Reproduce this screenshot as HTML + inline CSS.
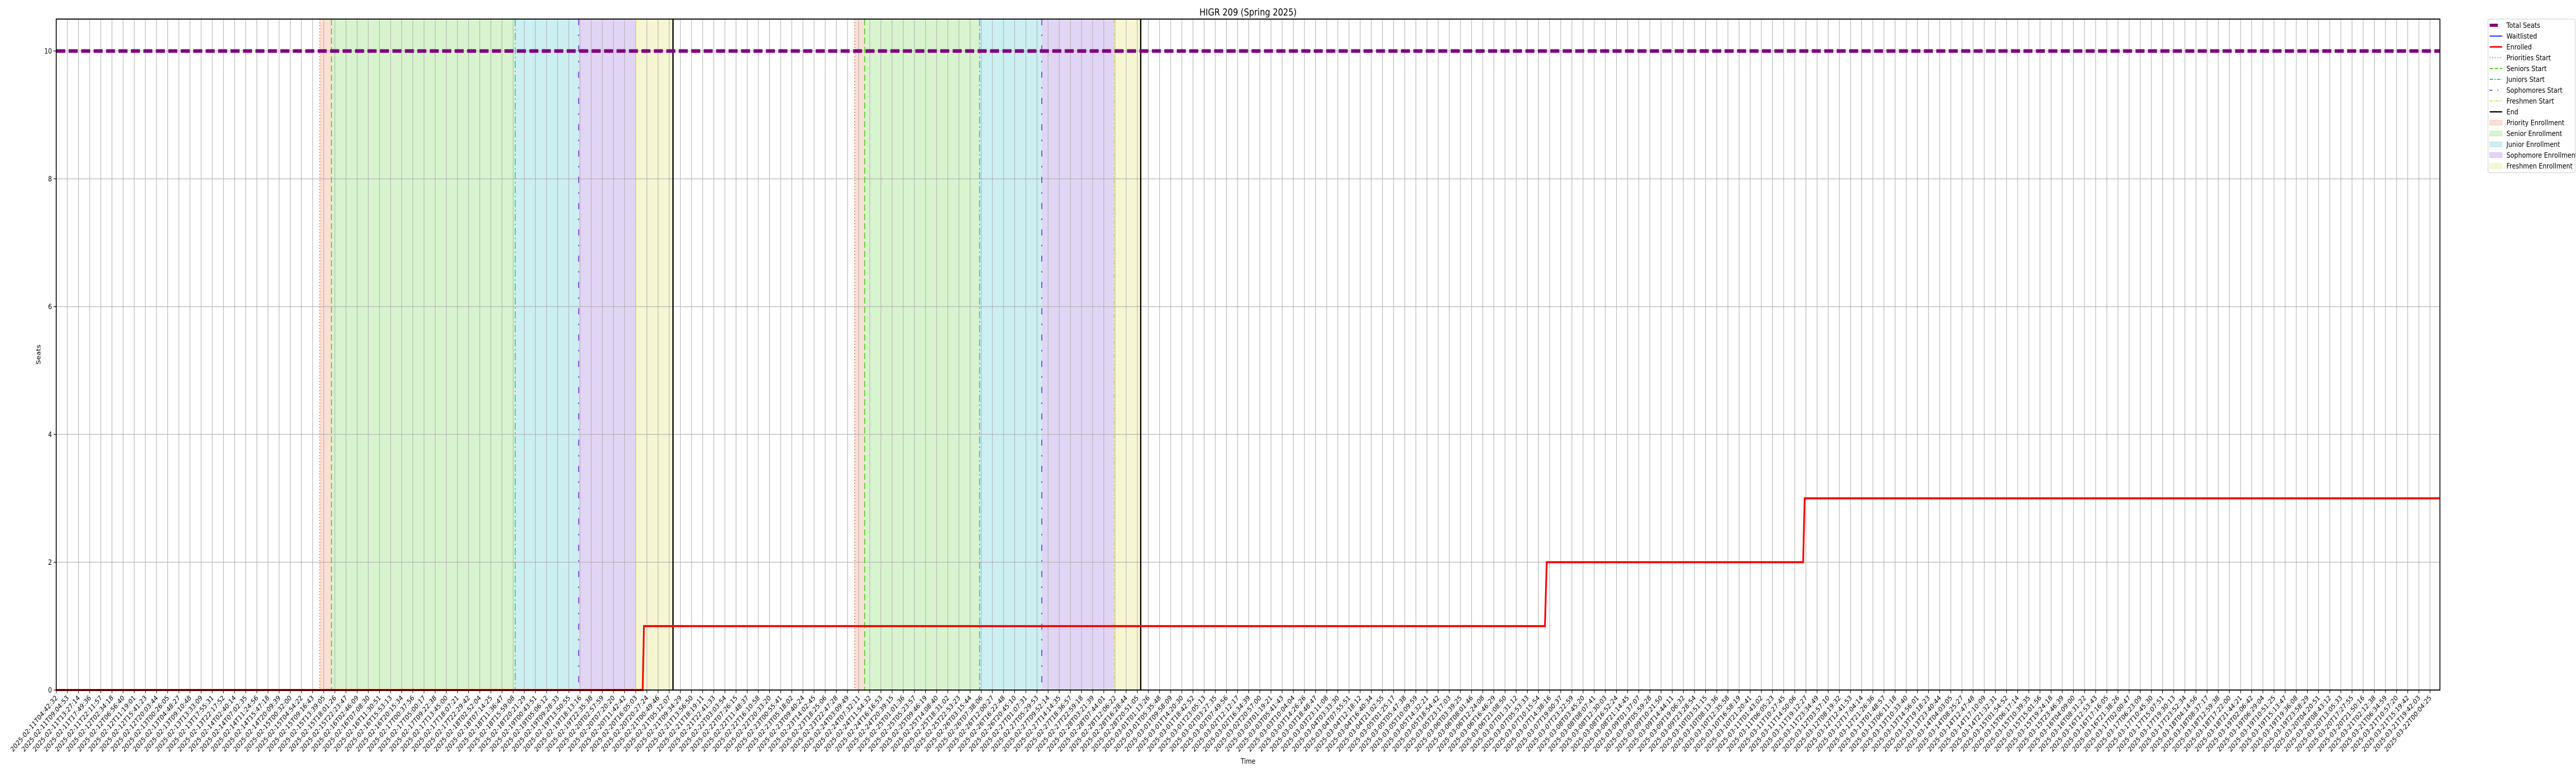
<!DOCTYPE html>
<html><head><meta charset="utf-8">
<style>
html,body{margin:0;padding:0;background:#fff;width:100%;height:100%;overflow:hidden;}
svg{display:block;font-family:"DejaVu Sans","Liberation Sans",sans-serif;width:100vw;height:100vh;}
</style></head>
<body>
<svg id="chart" viewBox="0 0 6000 1500" preserveAspectRatio="none" xmlns="http://www.w3.org/2000/svg">
<rect width="6000" height="1500" fill="#fff"/>
<text x="2907" y="30" font-size="19" text-anchor="middle">HIGR 209 (Spring 2025)</text>
<text x="2907" y="1482" font-size="14" text-anchor="middle">Time</text>
<text x="0" y="0" font-size="14" text-anchor="middle" transform="translate(94,688) rotate(-90)">Seats</text>
<g id="plot"></g>
<g id="legend"></g>
</svg>
<script>
// ---- data ----
const tickStart = "2025-02-11T04:42:32";
const tickEnd = "2025-03-22T00:04:25";
const tickCount = 214;
const yTicks = [0, 2, 4, 6, 8, 10];
const totalSeats = 10;
const enrolledTimes = ["2025-02-11T04:42:32","2025-02-20T18:48:00","2025-02-20T19:18:00","2025-03-07T12:48:00","2025-03-07T13:30:00","2025-03-11T18:06:00","2025-03-11T18:42:00","2025-03-22T03:58:00"];
const enrolledValues = [0, 0, 1, 1, 2, 2, 3, 3];
const waitlistTimes = ["2025-02-11T04:42:32","2025-03-22T03:58:00"];
const waitlistValues = [0, 0];
const phaseNames = ["Priority","Senior","Junior","Sophomore","Freshmen"];
const round1Starts = ["2025-02-15T12:06:00","2025-02-15T16:42:00","2025-02-18T16:48:00","2025-02-19T17:42:00","2025-02-20T16:06:00"];
const round1End = "2025-02-21T06:42:00";
const round2Starts = ["2025-02-24T06:00:00","2025-02-24T09:54:00","2025-02-26T07:00:00","2025-02-27T07:24:00","2025-02-28T11:42:00"];
const round2End = "2025-02-28T22:12:00";

// ---- layout ----
const L=131, R=5683, T=37, B=1339;
const t0 = Date.parse(tickStart+"Z"), t1 = Date.parse(tickEnd+"Z");
const X0=131, X1=5660;
function xs(s){ const t = Date.parse(s+"Z"); return X0 + (t - t0)/(t1 - t0)*(X1 - X0); }
function y(v){ return B - v*124.0; }
const NS="http://www.w3.org/2000/svg";
const plot=document.getElementById('plot');
function el(tag, attrs, parent){ const e=document.createElementNS(NS,tag); for(const k in attrs) e.setAttribute(k,attrs[k]); (parent||plot).appendChild(e); return e; }
function fmt(ms){ const d=new Date(ms); const p=n=>String(n).padStart(2,'0');
  return d.getUTCFullYear()+"-"+p(d.getUTCMonth()+1)+"-"+p(d.getUTCDate())+"T"+p(d.getUTCHours())+":"+p(d.getUTCMinutes())+":"+p(d.getUTCSeconds()); }

const fills=["rgba(232,110,60,0.22)","rgba(100,210,60,0.25)","rgba(40,190,200,0.24)","rgba(130,80,215,0.24)","rgba(220,220,80,0.25)"];
const lineCols=["#ee6a3a","#3fcf10","#12c4cc","#7a28e0","#dede2c"];
const dashes=["2,4","12,6","14,5,3,5","12,18,3,18","8,4,3,4,3,4"];

// bands
[[round1Starts,round1End],[round2Starts,round2End]].forEach((rd,ri)=>{
  const st=rd[0];
  for(let i=0;i<st.length;i++){
    const a=xs(st[i]), b=xs(i+1<st.length?st[i+1]:rd[1]);
    const r=el('rect',{x:a,y:T,width:b-a,height:B-T,fill:fills[i]});
    
    
  }
});

// grid + ticks
for(let i=0;i<tickCount;i++){
  const tm=t0+(t1-t0)*i/(tickCount-1);
  const x=X0+(X1-X0)*i/(tickCount-1);
  const g=el('line',{x1:x,x2:x,y1:T,y2:B,stroke:"#b0b0b0","stroke-width":1.3});
  
  
  const tk=el('line',{x1:x,x2:x,y1:B,y2:B+6,stroke:"#000","stroke-width":1.3});
  
  
  const tx=el('text',{x:0,y:0,"font-size":13.6,"text-anchor":"end",transform:`translate(${x+4},${B+16}) rotate(-45)`});
  tx.textContent=fmt(tm);
  
  
}
yTicks.forEach(v=>{
  const g=el('line',{x1:L,x2:R,y1:y(v),y2:y(v),stroke:"#b0b0b0","stroke-width":1.3});
  
  
  const tk=el('line',{x1:L-6,x2:L,y1:y(v),y2:y(v),stroke:"#000","stroke-width":1.3});
  
  
  const tx=el('text',{x:L-10,y:y(v)+5,"font-size":14,"text-anchor":"end"});
  tx.textContent=String(v);
  
  
});

// event lines
[[round1Starts,round1End],[round2Starts,round2End]].forEach((rd,ri)=>{
  rd[0].forEach((s,i)=>{
    const x=xs(s);
    const l=el('line',{x1:x,x2:x,y1:T,y2:B,stroke:lineCols[i],"stroke-width":2,"stroke-dasharray":dashes[i]});
    
    
  });
  const xe=xs(rd[1]);
  const le=el('line',{x1:xe,x2:xe,y1:T,y2:B,stroke:"#000","stroke-width":3});
  
  
});

// total seats
const ts=el('line',{x1:L,x2:R,y1:y(totalSeats),y2:y(totalSeats),stroke:"#800080","stroke-width":7,"stroke-dasharray":"21,8"});



function poly(times, vals, col, w, name){
  const pts=times.map((t,i)=>Math.min(xs(t),R)+","+y(vals[i])).join(" ");
  const p=el('polyline',{points:pts,fill:"none",stroke:col,"stroke-width":w,"stroke-linejoin":"miter"});
  
  
}
poly(waitlistTimes, waitlistValues, "#2020ff", 2, "waitlisted-line");
poly(enrolledTimes, enrolledValues, "#ff0000", 4, "enrolled-line");

// axes frame
const fr=el('rect',{x:L,y:T,width:R-L,height:B-T,fill:"none",stroke:"#000","stroke-width":2});



// legend
const lg=document.getElementById('legend');
const box=el('rect',{x:5795,y:37,width:203,height:298,rx:4,fill:"#fff",stroke:"#d0d0d0","stroke-width":1.3},lg);


const entries=[
 ["Total Seats","line","#800080",6,"",5799,5818],
 ["Waitlisted","line","#2020ff",2,""],
 ["Enrolled","line","#ff0000",3,""],
 ["Priorities Start","line",lineCols[0],2,"2,4"],
 ["Seniors Start","line",lineCols[1],2,"8,4"],
 ["Juniors Start","line",lineCols[2],2,"8,3,3,3"],
 ["Sophomores Start","line",lineCols[3],2,"6,12,2,12"],
 ["Freshmen Start","line",lineCols[4],2,"5,2,2,2,2,2"],
 ["End","line","#000",2.5,""],
 ["Priority Enrollment","patch",fills[0]],
 ["Senior Enrollment","patch",fills[1]],
 ["Junior Enrollment","patch",fills[2]],
 ["Sophomore Enrollment","patch",fills[3]],
 ["Freshmen Enrollment","patch",fills[4]]
];
entries.forEach((e,i)=>{
  const cy=49+i*21;
  if(e[1]==="line"){
    const a={x1:5799,x2:e[5]?5818:5828,y1:cy,y2:cy,stroke:e[2],"stroke-width":e[3]};
    if(e[4]) a["stroke-dasharray"]=e[4];
    const h=el('line',a,lg);
    
    
  } else {
    const h=el('rect',{x:5799,y:cy-5,width:29,height:10,fill:e[2],stroke:e[2]},lg);
    
    
  }
  const t=el('text',{x:5838,y:cy+5,"font-size":14.5},lg);
  t.textContent=e[0];
  
  
});
</script>
</body></html>
